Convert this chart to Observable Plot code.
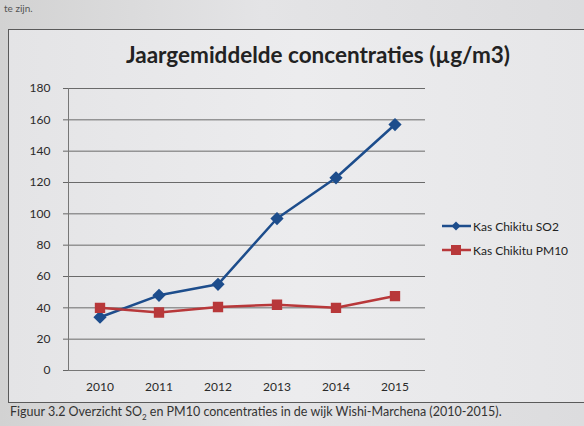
<!DOCTYPE html>
<html>
<head>
<meta charset="utf-8">
<script src="https://cdn.jsdelivr.net/npm/d3@7"></script>
<script src="https://cdn.jsdelivr.net/npm/@observablehq/plot@0.6"></script>
<style>
  html, body { margin: 0; padding: 0; }
  body {
    width: 584px; height: 426px; overflow: hidden; position: relative;
    background: linear-gradient(90deg, #d2d2d2 0%, #e4e4e6 45%, #dcdcde 100%);
    font-family: Lato, "Open Sans", sans-serif;
  }
  #top { position: absolute; left: 4px; top: 2px; font-size: 10px; line-height: 12px; color: #555; }
  #box {
    position: absolute; left: 8px; top: 29px; width: 580px; height: 372px;
    border: 1.5px solid #5a5a5a;
    background: linear-gradient(90deg, #e4e4e6 0%, #ececee 50%, #e6e6e8 100%);
  }
  #title {
    position: absolute; left: 0; width: 584px; top: 41px; text-align: center;
    font-size: 22.5px; font-weight: bold; color: #222; padding-left: 52px; box-sizing: border-box;
  }
  #chart { position: absolute; left: 0; top: 78px; }
  #legend { position: absolute; left: 442px; top: 214px; font-size: 12px; color: #222; }
  #legend div { display: flex; align-items: center; height: 24px; }
  #caption { position: absolute; left: 10px; top: 404px; font-size: 12.5px; color: #333; }
</style>
</head>
<body>
<div id="top">te zijn.</div>
<div id="box"></div>
<div id="title">Jaargemiddelde concentraties (µg/m3)</div>
<div id="chart"></div>
<div id="legend"></div>
<div id="caption">Figuur 3.2 Overzicht SO<sub style="font-size:8px">2</sub> en PM10 concentraties in de wijk Wishi-Marchena (2010-2015).</div>
<script>
const years = ["2010", "2011", "2012", "2013", "2014", "2015"];
const so2 = [34, 48, 55, 97, 123, 157];
const pm10 = [40, 37, 40.5, 42, 40, 47.5];
const yTicks = [0, 20, 40, 60, 80, 100, 120, 140, 160, 180];
const seriesNames = ["Kas Chikitu SO2", "Kas Chikitu PM10"];
const colors = ["#1d4d8c", "#b8383a"];
const symbols = ["diamond2", "square"];

const data = [];
years.forEach((y, i) => {
  data.push({year: y, value: so2[i], series: seriesNames[0]});
  data.push({year: y, value: pm10[i], series: seriesNames[1]});
});

const plot = Plot.plot({
  width: 440, height: 322,
  marginLeft: 68, marginRight: 15, marginTop: 10, marginBottom: 30,
  style: {background: "transparent", fontFamily: "Lato, 'Open Sans', sans-serif", fontSize: "12px", color: "#2a2a2a"},
  x: {type: "band", domain: years, padding: 0, label: null},
  y: {domain: [0, 180], label: null},
  color: {domain: seriesNames, range: colors},
  symbol: {domain: seriesNames, range: symbols},
  marks: [
    Plot.ruleY(yTicks.filter(d => d > 0), {stroke: "#6a6a6a", strokeWidth: 1}),
    Plot.axisY({ticks: yTicks, tickSize: 5, tickPadding: 13, stroke: "#666", label: null, fill: "#2a2a2a"}),
    Plot.axisX({tickSize: 0, tickPadding: 12, label: null, fill: "#2a2a2a"}),
    Plot.frame({anchor: "left", stroke: "#777"}),
    Plot.ruleY([0], {stroke: "#777"}),
    Plot.line(data, {x: "year", y: "value", z: "series", stroke: "series", strokeWidth: 2.5}),
    Plot.dot(data, {x: "year", y: "value", symbol: "series", fill: "series", stroke: "series", r: 5})
  ]
});
document.getElementById("chart").appendChild(plot);

const legend = document.getElementById("legend");
seriesNames.forEach((name, i) => {
  const row = document.createElement("div");
  const shape = symbols[i] === "diamond2"
    ? `<path d="M14,1.5 L18.5,6 L14,10.5 L9.5,6 Z" fill="${colors[i]}"/>`
    : `<rect x="9" y="1" width="10" height="10" fill="${colors[i]}"/>`;
  row.innerHTML = `<svg width="30" height="12" style="margin-right:1px"><line x1="0" y1="6" x2="29" y2="6" stroke="${colors[i]}" stroke-width="2.5"/>${shape}</svg><span>${name}</span>`;
  legend.appendChild(row);
});
</script>
</body>
</html>
